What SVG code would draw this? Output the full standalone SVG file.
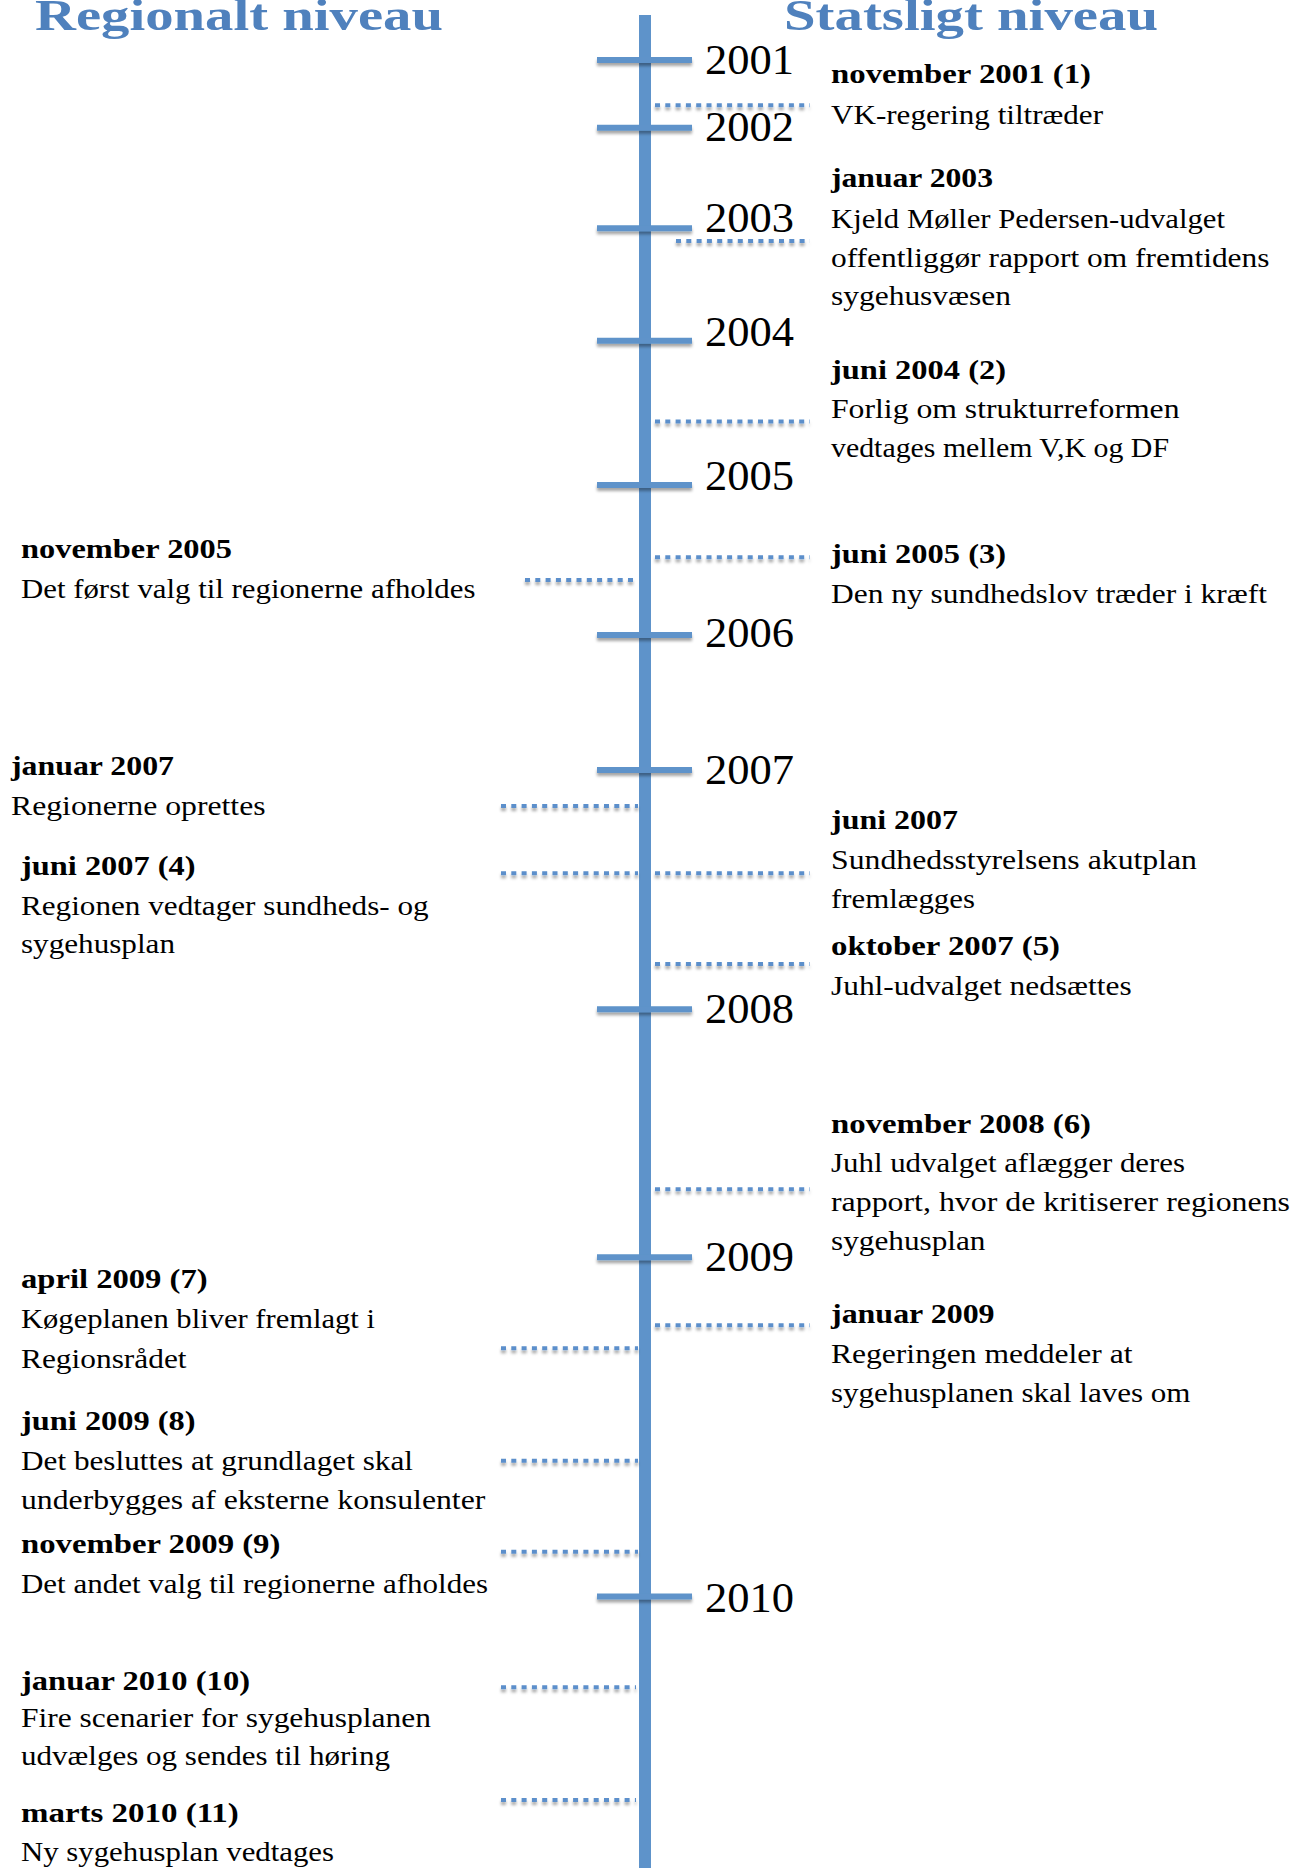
<svg xmlns="http://www.w3.org/2000/svg" width="1296" height="1868" viewBox="0 0 1296 1868">
<defs>
<filter id="sh" x="-10%" y="-200%" width="120%" height="600%">
<feDropShadow dx="0" dy="3" stdDeviation="1.6" flood-color="#000" flood-opacity="0.35"/>
</filter>
<style>
.title{font-family:"Liberation Serif",serif;font-weight:bold;font-size:45px;fill:#4F81BD}
.yr{font-family:"Liberation Serif",serif;font-size:42px;fill:#000}
.b{font-family:"Liberation Serif",serif;font-weight:bold;font-size:27px;fill:#000}
.t{font-family:"Liberation Serif",serif;font-size:27px;fill:#000}
.axis{stroke:#5E93CA;stroke-width:12;fill:none}
.tick{stroke:#5E93CA;stroke-width:6;fill:none}
.dot{stroke:#5B8FCB;stroke-width:4;stroke-dasharray:5 5.3;fill:none}
</style>
</defs>
<rect width="1296" height="1868" fill="#fff"/>

<g id="titles">
<text class="title" x="35" y="30" textLength="408" lengthAdjust="spacingAndGlyphs">Regionalt niveau</text>
<text class="title" x="784" y="30" textLength="374" lengthAdjust="spacingAndGlyphs">Statsligt niveau</text>
</g>

<g id="axis">
<line class="axis" x1="645" y1="15" x2="645" y2="1868"/>
<g filter="url(#sh)">
<line class="tick" x1="597" y1="60" x2="692" y2="60"/>
<line class="tick" x1="597" y1="127.7" x2="692" y2="127.7"/>
<line class="tick" x1="597" y1="228.3" x2="692" y2="228.3"/>
<line class="tick" x1="597" y1="340.7" x2="692" y2="340.7"/>
<line class="tick" x1="597" y1="485" x2="692" y2="485"/>
<line class="tick" x1="597" y1="635" x2="692" y2="635"/>
<line class="tick" x1="597" y1="770" x2="692" y2="770"/>
<line class="tick" x1="597" y1="1009.3" x2="692" y2="1009.3"/>
<line class="tick" x1="597" y1="1257.3" x2="692" y2="1257.3"/>
<line class="tick" x1="597" y1="1596.5" x2="692" y2="1596.5"/>
</g>
<text class="yr" x="705" y="74" textLength="89" lengthAdjust="spacingAndGlyphs">2001</text>
<text class="yr" x="705" y="141" textLength="89" lengthAdjust="spacingAndGlyphs">2002</text>
<text class="yr" x="705" y="232" textLength="89" lengthAdjust="spacingAndGlyphs">2003</text>
<text class="yr" x="705" y="346" textLength="89" lengthAdjust="spacingAndGlyphs">2004</text>
<text class="yr" x="705" y="490" textLength="89" lengthAdjust="spacingAndGlyphs">2005</text>
<text class="yr" x="705" y="647" textLength="89" lengthAdjust="spacingAndGlyphs">2006</text>
<text class="yr" x="705" y="784" textLength="89" lengthAdjust="spacingAndGlyphs">2007</text>
<text class="yr" x="705" y="1023" textLength="89" lengthAdjust="spacingAndGlyphs">2008</text>
<text class="yr" x="705" y="1271" textLength="89" lengthAdjust="spacingAndGlyphs">2009</text>
<text class="yr" x="705" y="1612" textLength="89" lengthAdjust="spacingAndGlyphs">2010</text>
</g>

<g id="connectors" filter="url(#sh)">
<line class="dot" x1="655" y1="105.3" x2="810" y2="105.3"/>
<line class="dot" x1="676" y1="241" x2="810" y2="241"/>
<line class="dot" x1="655" y1="421.5" x2="810" y2="421.5"/>
<line class="dot" x1="655" y1="557.3" x2="810" y2="557.3"/>
<line class="dot" x1="525" y1="580" x2="638" y2="580"/>
<line class="dot" x1="501" y1="806" x2="638" y2="806"/>
<line class="dot" x1="501" y1="873.3" x2="638" y2="873.3"/>
<line class="dot" x1="655" y1="873.3" x2="810" y2="873.3"/>
<line class="dot" x1="655" y1="964" x2="810" y2="964"/>
<line class="dot" x1="655" y1="1189.3" x2="810" y2="1189.3"/>
<line class="dot" x1="655" y1="1325.3" x2="810" y2="1325.3"/>
<line class="dot" x1="501" y1="1348.3" x2="638" y2="1348.3"/>
<line class="dot" x1="501" y1="1460.7" x2="638" y2="1460.7"/>
<line class="dot" x1="501" y1="1551.7" x2="638" y2="1551.7"/>
<line class="dot" x1="501" y1="1687.3" x2="636" y2="1687.3"/>
<line class="dot" x1="501" y1="1800" x2="636" y2="1800"/>
</g>

<g id="ev-nov2001">
<text class="b" x="831" y="83.3" textLength="260" lengthAdjust="spacingAndGlyphs">november 2001 (1)</text>
<text class="t" x="831" y="124" textLength="272" lengthAdjust="spacingAndGlyphs">VK-regering tiltræder</text>
</g>
<g id="ev-jan2003">
<text class="b" x="831" y="187.3" textLength="162" lengthAdjust="spacingAndGlyphs">januar 2003</text>
<text class="t" x="831" y="228.3" textLength="394" lengthAdjust="spacingAndGlyphs">Kjeld Møller Pedersen-udvalget</text>
<text class="t" x="831" y="266.7" textLength="438.5" lengthAdjust="spacingAndGlyphs">offentliggør rapport om fremtidens</text>
<text class="t" x="831" y="305" textLength="180" lengthAdjust="spacingAndGlyphs">sygehusvæsen</text>
</g>
<g id="ev-jun2004">
<text class="b" x="831" y="379.3" textLength="175" lengthAdjust="spacingAndGlyphs">juni 2004 (2)</text>
<text class="t" x="831" y="418.3" textLength="348.5" lengthAdjust="spacingAndGlyphs">Forlig om strukturreformen</text>
<text class="t" x="831" y="456.7" textLength="338" lengthAdjust="spacingAndGlyphs">vedtages mellem V,K og DF</text>
</g>
<g id="ev-jun2005">
<text class="b" x="831" y="562.7" textLength="175" lengthAdjust="spacingAndGlyphs">juni 2005 (3)</text>
<text class="t" x="831" y="602.7" textLength="436" lengthAdjust="spacingAndGlyphs">Den ny sundhedslov træder i kræft</text>
</g>
<g id="ev-nov2005">
<text class="b" x="21" y="558.3" textLength="211" lengthAdjust="spacingAndGlyphs">november 2005</text>
<text class="t" x="21" y="598.3" textLength="454.4" lengthAdjust="spacingAndGlyphs">Det først valg til regionerne afholdes</text>
</g>
<g id="ev-jan2007">
<text class="b" x="11" y="775" textLength="163" lengthAdjust="spacingAndGlyphs">januar 2007</text>
<text class="t" x="11" y="815" textLength="254.6" lengthAdjust="spacingAndGlyphs">Regionerne oprettes</text>
</g>
<g id="ev-jun2007-4">
<text class="b" x="21" y="875" textLength="174.5" lengthAdjust="spacingAndGlyphs">juni 2007 (4)</text>
<text class="t" x="21" y="915" textLength="407.6" lengthAdjust="spacingAndGlyphs">Regionen vedtager sundheds- og</text>
<text class="t" x="21" y="953.3" textLength="154" lengthAdjust="spacingAndGlyphs">sygehusplan</text>
</g>
<g id="ev-jun2007">
<text class="b" x="831" y="829.3" textLength="127" lengthAdjust="spacingAndGlyphs">juni 2007</text>
<text class="t" x="831" y="869.3" textLength="366" lengthAdjust="spacingAndGlyphs">Sundhedsstyrelsens akutplan</text>
<text class="t" x="831" y="908.3" textLength="144" lengthAdjust="spacingAndGlyphs">fremlægges</text>
</g>
<g id="ev-okt2007">
<text class="b" x="831" y="955" textLength="229" lengthAdjust="spacingAndGlyphs">oktober 2007 (5)</text>
<text class="t" x="831" y="995" textLength="300.6" lengthAdjust="spacingAndGlyphs">Juhl-udvalget nedsættes</text>
</g>
<g id="ev-nov2008">
<text class="b" x="831" y="1132.7" textLength="260" lengthAdjust="spacingAndGlyphs">november 2008 (6)</text>
<text class="t" x="831" y="1171.7" textLength="354" lengthAdjust="spacingAndGlyphs">Juhl udvalget aflægger deres</text>
<text class="t" x="831" y="1211" textLength="459" lengthAdjust="spacingAndGlyphs">rapport, hvor de kritiserer regionens</text>
<text class="t" x="831" y="1250" textLength="154.5" lengthAdjust="spacingAndGlyphs">sygehusplan</text>
</g>
<g id="ev-jan2009">
<text class="b" x="831" y="1322.7" textLength="163.6" lengthAdjust="spacingAndGlyphs">januar 2009</text>
<text class="t" x="831" y="1363.3" textLength="301.5" lengthAdjust="spacingAndGlyphs">Regeringen meddeler at</text>
<text class="t" x="831" y="1401.7" textLength="359.5" lengthAdjust="spacingAndGlyphs">sygehusplanen skal laves om</text>
</g>
<g id="ev-apr2009">
<text class="b" x="21" y="1288.3" textLength="186.6" lengthAdjust="spacingAndGlyphs">april 2009 (7)</text>
<text class="t" x="21" y="1328.3" textLength="354" lengthAdjust="spacingAndGlyphs">Køgeplanen bliver fremlagt i</text>
<text class="t" x="21" y="1368.3" textLength="165.6" lengthAdjust="spacingAndGlyphs">Regionsrådet</text>
</g>
<g id="ev-jun2009">
<text class="b" x="21" y="1430" textLength="174.5" lengthAdjust="spacingAndGlyphs">juni 2009 (8)</text>
<text class="t" x="21" y="1470" textLength="392" lengthAdjust="spacingAndGlyphs">Det besluttes at grundlaget skal</text>
<text class="t" x="21" y="1509.3" textLength="464.3" lengthAdjust="spacingAndGlyphs">underbygges af eksterne konsulenter</text>
</g>
<g id="ev-nov2009">
<text class="b" x="21" y="1553.3" textLength="259.4" lengthAdjust="spacingAndGlyphs">november 2009 (9)</text>
<text class="t" x="21" y="1592.7" textLength="467" lengthAdjust="spacingAndGlyphs">Det andet valg til regionerne afholdes</text>
</g>
<g id="ev-jan2010">
<text class="b" x="21" y="1690" textLength="229" lengthAdjust="spacingAndGlyphs">januar 2010 (10)</text>
<text class="t" x="21" y="1727.3" textLength="410" lengthAdjust="spacingAndGlyphs">Fire scenarier for sygehusplanen</text>
<text class="t" x="21" y="1765" textLength="369" lengthAdjust="spacingAndGlyphs">udvælges og sendes til høring</text>
</g>
<g id="ev-mar2010">
<text class="b" x="21" y="1821.7" textLength="217.8" lengthAdjust="spacingAndGlyphs">marts 2010 (11)</text>
<text class="t" x="21" y="1860.7" textLength="313" lengthAdjust="spacingAndGlyphs">Ny sygehusplan vedtages</text>
</g>
</svg>
